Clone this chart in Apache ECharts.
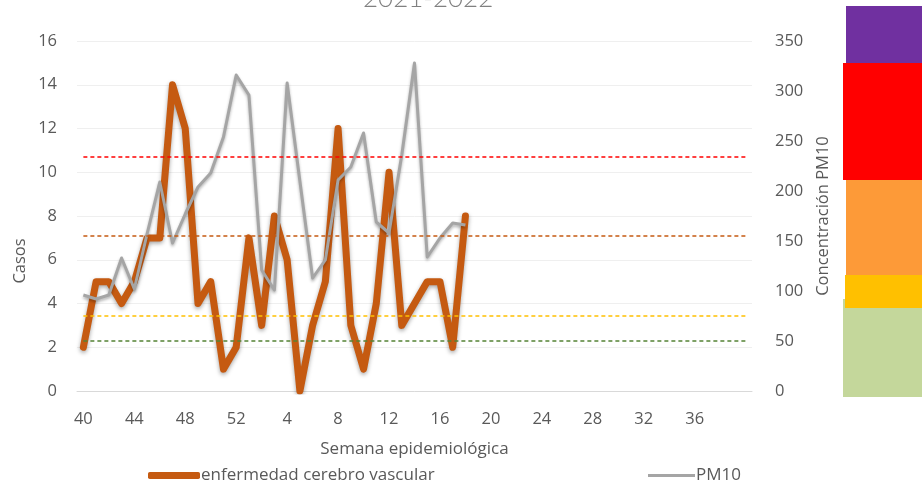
<!DOCTYPE html>
<html style="height: 100%" lang="es">
<head>
    <meta charset="UTF-8">
    <title>Casos y PM10</title>
    <script src="https://cdn.jsdelivr.net/npm/echarts@6/dist/echarts.min.js"></script>
</head>
<body style="height: 100%; margin: 0; background: #fff">
<div id="main" style="width: 922px; height: 483px"></div>

<script type="text/javascript">
    // semanas epidemiologicas 40..52 (2021) y 1..40 (2022)
    var semanas = ['40','41','42','43','44','45','46','47','48','49','50','51','52',
        '1','2','3','4','5','6','7','8','9','10','11','12','13','14','15','16','17','18','19','20',
        '21','22','23','24','25','26','27','28','29','30','31','32','33','34','35','36','37','38','39','40'];

    // casos enfermedad cerebro vascular
    var casos = [2, 5, 5, 4, 5, 7, 7, 14, 12, 4, 5, 1, 2,
        7, 3, 8, 6, 0, 3, 5, 12, 3, 1, 4, 10, 3, 4, 5, 5, 2, 8];

    // concentracion PM10
    var pm10 = [96, 92, 96, 133, 102, 157, 209, 148, 177, 204, 218, 254, 316,
        296, 121, 101, 308, 210, 113, 131, 211, 224, 258, 169, 158, 236, 328, 134, 153, 168, 166];

    // umbrales PM10 (lineas punteadas)
    var umbrales = [234, 155, 75, 50];
    var coloresUmbral = ['#ff0000', '#c55a11', '#ffc000', '#548235'];

    var fuente = 'Open Sans';
    var gris = '#595959';

    var chart = echarts.init(document.getElementById('main'));

    var lineas = umbrales.map(function (v, i) {
        return [
            {xAxis: 0, yAxis: v, lineStyle: {color: coloresUmbral[i]}},
            {xAxis: semanas.length - 1, yAxis: v}
        ];
    });

    var option = {
        backgroundColor: '#ffffff',
        animation: false,
        title: {
            text: '2021-2022',
            left: 358,
            top: -19,
            textStyle: {color: '#808080', fontFamily: 'Lato', fontWeight: 300, fontSize: 26}
        },
        legend: [
            {
                data: ['enfermedad cerebro vascular'],
                left: 143, top: 462,
                icon: 'roundRect',
                itemWidth: 52, itemHeight: 7, itemGap: 2,
                textStyle: {color: gris, fontFamily: fuente, fontSize: 17, padding: [0, 0, 0, -4]}
            },
            {
                data: ['PM10'],
                left: 643, top: 462,
                icon: 'rect',
                itemWidth: 47, itemHeight: 3,
                textStyle: {color: gris, fontFamily: fuente, fontSize: 17, padding: [0, 0, 0, -4]}
            }
        ],
        grid: {left: 77, right: 170, top: 41, bottom: 92},
        xAxis: {
            type: 'category',
            data: semanas,
            boundaryGap: true,
            name: 'Semana epidemiológica',
            nameLocation: 'middle',
            nameGap: 50,
            nameTextStyle: {color: gris, fontFamily: fuente, fontSize: 17},
            axisLine: {lineStyle: {color: '#d9d9d9', width: 1}},
            axisTick: {show: false},
            axisLabel: {
                color: gris, fontFamily: fuente, fontSize: 16.5, margin: 20,
                interval: function (index) { return index % 4 === 0 && index < 52; }
            }
        },
        yAxis: [
            {
                type: 'value',
                min: 0, max: 16, interval: 2,
                axisLabel: {color: gris, fontFamily: fuente, fontSize: 16.5, margin: 20},
                axisLine: {show: false},
                axisTick: {show: false},
                splitLine: {lineStyle: {color: '#efefef', width: 1}}
            },
            {
                type: 'value',
                min: 0, max: 350, interval: 50,
                name: 'Concentración PM10',
                nameLocation: 'middle',
                nameGap: 63,
                nameRotate: 90,
                nameTextStyle: {color: gris, fontFamily: fuente, fontSize: 16.5},
                axisLabel: {color: gris, fontFamily: fuente, fontSize: 16.5, margin: 23},
                axisLine: {show: false},
                axisTick: {show: false},
                splitLine: {show: false}
            }
        ],
        series: [
            {
                name: 'enfermedad cerebro vascular',
                type: 'line',
                yAxisIndex: 0,
                data: casos,
                symbol: 'none',
                color: '#c55a11',
                z: 3,
                lineStyle: {
                    color: '#c55a11', width: 7, cap: 'round', join: 'round',
                    shadowColor: 'rgba(0,0,0,0.35)', shadowBlur: 4, shadowOffsetY: 2
                }
            },
            {
                name: 'PM10',
                type: 'line',
                yAxisIndex: 1,
                data: pm10,
                symbol: 'none',
                color: '#a5a5a5',
                z: 4,
                lineStyle: {
                    color: '#a5a5a5', width: 3, join: 'round',
                    shadowColor: 'rgba(0,0,0,0.3)', shadowBlur: 3, shadowOffsetY: 2
                },
                markLine: {
                    silent: true,
                    symbol: 'none',
                    label: {show: false},
                    lineStyle: {type: [4, 3], width: 1.5},
                    data: lineas
                }
            }
        ],
        graphic: [
            {
                type: 'text', x: 20, y: 261, rotation: Math.PI / 2,
                style: {text: 'Casos', fill: gris, font: '16.5px "Open Sans"', align: 'center', verticalAlign: 'middle'}
            },
            {type: 'rect', shape: {x: 843, y: 299, width: 79, height: 98}, style: {fill: '#c4d79b'}},
            {type: 'rect', shape: {x: 846, y: 180, width: 76, height: 96}, style: {fill: '#fd9a38'}},
            {type: 'rect', shape: {x: 845, y: 275, width: 77, height: 33}, style: {fill: '#ffc000'}},
            {type: 'rect', shape: {x: 843, y: 63, width: 79, height: 117}, style: {fill: '#ff0000'}},
            {type: 'rect', shape: {x: 846, y: 6, width: 76, height: 57}, style: {fill: '#7030a0'}}
        ]
    };

    chart.setOption(option);
</script>
</body>
</html>
